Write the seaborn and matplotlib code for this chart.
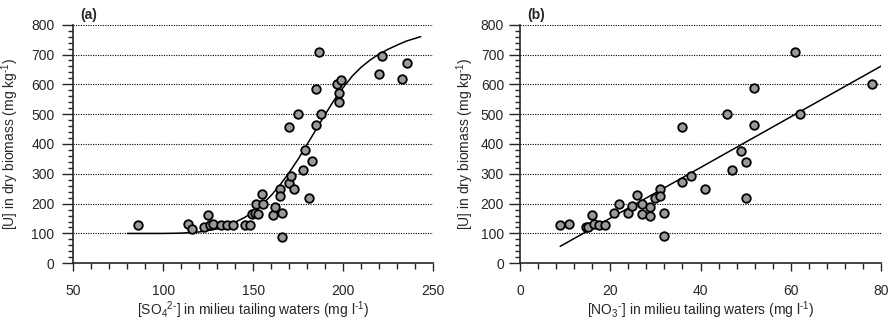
import numpy as np
import pandas as pd
import matplotlib
matplotlib.use('Agg')
import matplotlib.pyplot as plt
import matplotlib.ticker as ticker
import seaborn as sns

sns.set_style('ticks')
plt.rcParams['font.family'] = ['Liberation Sans', 'DejaVu Sans']
plt.rcParams['mathtext.fontset'] = 'custom'
plt.rcParams['mathtext.rm'] = 'Liberation Sans'
plt.rcParams['mathtext.it'] = 'Liberation Sans:italic'
plt.rcParams['mathtext.bf'] = 'Liberation Sans:bold'

# (a) sulphate vs uranium
so4 = [85.7, 113.9, 115.8, 122.8, 125.0, 126.0, 127.8, 131.9, 135.6, 138.6, 145.4, 148.2,
       149.5, 151.0, 152.5, 151.5, 154.7, 155.6, 160.8, 161.9, 165.8, 165.8, 164.8, 164.8,
       169.8, 170.8, 172.6, 177.8, 178.7, 182.8, 180.9, 169.8, 175.0, 184.8, 187.6, 184.8,
       186.7, 196.7, 198.6, 197.6, 197.6, 221.5, 219.7, 232.6, 235.6]
u_a = [127, 132, 116, 121, 161, 129, 130, 128, 128, 128, 128, 128,
       166, 168, 165, 198, 231, 198, 162, 190, 170, 89, 249, 224,
       270, 294, 249, 313, 380, 342, 219, 457, 500, 463, 502, 585,
       708, 601, 614, 571, 540, 694, 634, 617, 673]

# fitted sigmoid in (a)
curve_x = [80, 90, 100, 110, 120, 130, 135, 140, 145, 150, 155, 160, 165, 170, 175, 180,
           185, 190, 195, 200, 205, 210, 215, 220, 225, 230, 235, 243]
curve_y = [100, 100, 100, 101, 105, 115, 125, 138, 153, 172, 197, 228, 264, 305, 350, 400,
           450, 500, 548, 590, 628, 658, 682, 702, 718, 732, 745, 760]

# (b) nitrate vs uranium
no3 = [8.9, 10.9, 14.7, 15.0, 16.0, 16.4, 17.6, 18.9, 20.9, 21.9, 24.0, 24.9, 25.9, 27.0,
       27.0, 28.9, 28.9, 30.0, 31.0, 31.0, 32.0, 32.0, 36.0, 38.0, 36.0, 41.0, 47.0, 49.0,
       50.0, 50.0, 45.9, 51.9, 51.9, 61.0, 62.0, 78.0]
u_b = [128, 130, 120, 122, 161, 130, 129, 128, 167, 198, 167, 191, 230, 198,
       164, 189, 159, 218, 250, 224, 170, 91, 272, 293, 457, 249, 312, 378,
       341, 219, 501, 587, 464, 708, 502, 601]

# linear fit in (b)
fit_slope = 8.5
fit_intercept = -19.0

df_a = pd.DataFrame({'x': so4, 'u': u_a})
df_b = pd.DataFrame({'x': no3, 'u': u_b})
df_curve = pd.DataFrame({'x': curve_x, 'u': curve_y})
line_x = np.array([min(no3), 80])
df_line = pd.DataFrame({'x': line_x, 'u': fit_slope * line_x + fit_intercept})

fig = plt.figure(figsize=(8.9, 3.25), dpi=100)
ax1 = fig.add_axes([0.0824, 0.19, 0.4045, 0.734])
ax2 = fig.add_axes([0.5843, 0.19, 0.4056, 0.734])

pt = dict(s=38, color='#9a9a9a', edgecolor='black', linewidth=1.3, zorder=3)

sns.lineplot(data=df_curve, x='x', y='u', ax=ax1, color='black', lw=1.1, sort=False, zorder=2)
sns.scatterplot(data=df_a, x='x', y='u', ax=ax1, **pt)

sns.lineplot(data=df_line, x='x', y='u', ax=ax2, color='black', lw=1.1, zorder=2)
sns.scatterplot(data=df_b, x='x', y='u', ax=ax2, **pt)

ylab = r'[U] in dry biomass (mg kg$^{\text{-1}}$)'
ax1.set_xlabel(r'[SO$_4$$^{\text{2-}}$] in milieu tailing waters (mg l$^{\text{-1}}$)', fontsize=10)
ax2.set_xlabel(r'[NO$_3$$^{\text{-}}$] in milieu tailing waters (mg l$^{\text{-1}}$)', fontsize=10)

for ax, xl, xmaj, xmin, lab, ypad, ylx in [(ax1, (50, 250), 50, 10, '(a)', 5.5, -0.145),
                                          (ax2, (0, 80), 20, 4, '(b)', 3.5, -0.122)]:
    ax.set_xlim(*xl)
    ax.set_ylim(0, 800)
    ax.set_ylabel(ylab, fontsize=10)
    ax.yaxis.set_label_coords(ylx, 0.5)
    ax.xaxis.set_label_coords(0.5, -0.15)
    ax.xaxis.set_major_locator(ticker.MultipleLocator(xmaj))
    ax.xaxis.set_minor_locator(ticker.MultipleLocator(xmin))
    ax.yaxis.set_major_locator(ticker.MultipleLocator(100))
    ax.yaxis.set_minor_locator(ticker.MultipleLocator(20))
    ax.tick_params(axis='y', which='major', length=8, width=1, pad=ypad, labelsize=10)
    ax.tick_params(axis='y', which='minor', length=3.5, width=1)
    ax.tick_params(axis='x', which='major', length=6, width=1, pad=9, labelsize=10)
    ax.tick_params(axis='x', which='minor', length=4, width=1)
    for y in range(100, 900, 100):
        ax.axhline(y, color='black', ls=(0, (1, 1.2)), lw=0.8, zorder=1)
    sns.despine(ax=ax)
    ax.spines['left'].set_linewidth(1.2)
    ax.spines['bottom'].set_linewidth(1.2)
    ax.text(0.02, 1.012, lab, transform=ax.transAxes, fontsize=10, fontweight='bold',
            ha='left', va='bottom')

fig.savefig('out.png', dpi=100)
